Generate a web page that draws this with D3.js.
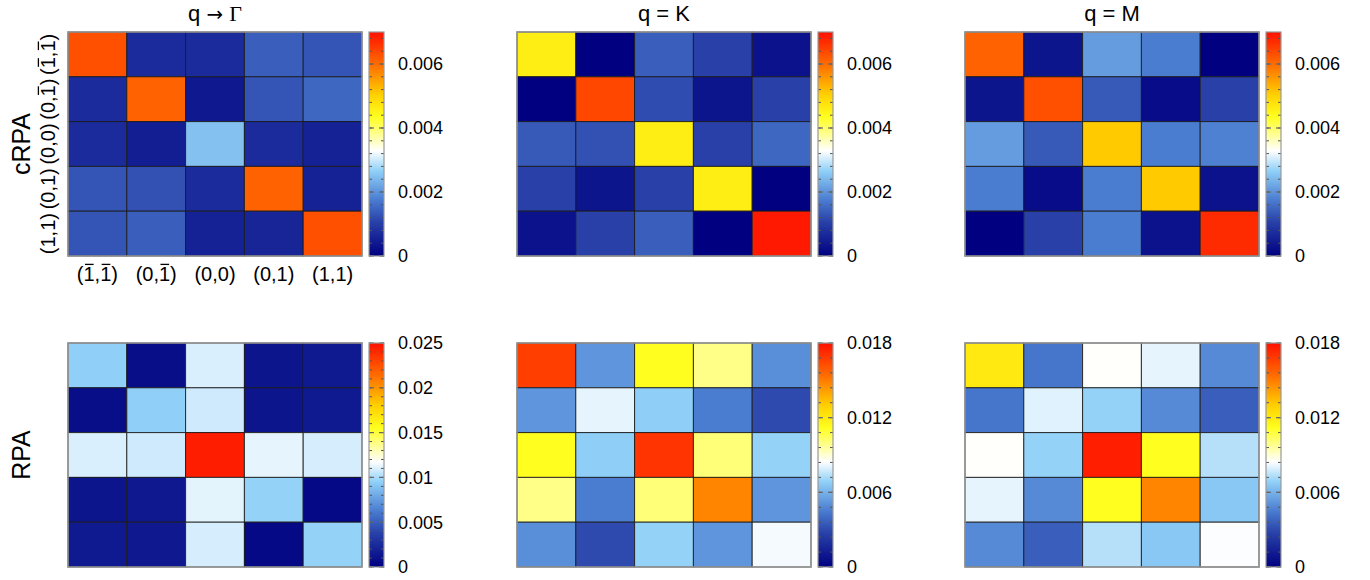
<!DOCTYPE html>
<html><head><meta charset="utf-8">
<script src="https://cdn.jsdelivr.net/npm/d3@7"></script>
<style>body{margin:0;background:#fff}svg{display:block}text{font-family:"Liberation Sans",Arial,sans-serif;fill:#000}</style>
</head><body>
<svg id="c" width="1370" height="580"></svg>
<script>
const labels = ["(1\u0305,1\u0305)", "(0,1\u0305)", "(0,0)", "(0,1)", "(1,1)"];
const colTitles = ["q \u2192 \u0393", "q = K", "q = M"];
const rowTitles = ["cRPA", "RPA"];

const gammaCRPA = [
  [0.0063, 0.0007, 0.0007, 0.0014, 0.0013],
  [0.0007, 0.0061, 0.0004, 0.0013, 0.0015],
  [0.0007, 0.0005, 0.0025, 0.0007, 0.00055],
  [0.0013, 0.00125, 0.0007, 0.0061, 0.00055],
  [0.0013, 0.0014, 0.00055, 0.0006, 0.0063]
];
const kCRPA = [
  [0.0046, 0.0, 0.0014, 0.00105, 0.0003],
  [0.0, 0.0064, 0.0012, 0.00035, 0.00105],
  [0.00135, 0.00125, 0.0046, 0.00105, 0.0015],
  [0.00105, 0.00035, 0.00105, 0.0046, 0.0],
  [0.0003, 0.00105, 0.0014, 0.0, 0.0069]
];
const mCRPA = [
  [0.0061, 0.00035, 0.0021, 0.00175, 0.0],
  [0.00035, 0.0063, 0.00135, 0.0002, 0.00105],
  [0.0021, 0.00135, 0.0051, 0.00175, 0.0018],
  [0.00175, 0.0002, 0.00175, 0.0051, 0.0003],
  [0.0, 0.00105, 0.00175, 0.0003, 0.0067]
];
const gammaRPA = [
  [0.0095, 0.00075, 0.011, 0.00125, 0.0015],
  [0.00075, 0.0095, 0.01075, 0.00125, 0.0015],
  [0.011, 0.01075, 0.0245, 0.01125, 0.0109],
  [0.00125, 0.0014, 0.0112, 0.0096, 0.0005],
  [0.0015, 0.0014, 0.0109, 0.0005, 0.0096]
];
const kRPA = [
  [0.0167, 0.0052, 0.0112, 0.0099, 0.005],
  [0.0052, 0.0081, 0.0068, 0.0045, 0.003],
  [0.0112, 0.0068, 0.017, 0.0101, 0.0069],
  [0.0099, 0.0045, 0.0101, 0.0148, 0.0052],
  [0.005, 0.003, 0.0069, 0.0052, 0.0083]
];
const mRPA = [
  [0.012, 0.0043, 0.0085, 0.0081, 0.0049],
  [0.0043, 0.008, 0.0069, 0.0049, 0.0036],
  [0.0085, 0.0069, 0.0176, 0.0112, 0.0074],
  [0.0081, 0.0049, 0.0112, 0.0148, 0.0066],
  [0.0049, 0.0036, 0.0074, 0.0066, 0.0084]
];
const cbMaxTop = 0.007, cbMaxGammaRPA = 0.025, cbMaxRPA = 0.018;
const ticksTop = [0, 0.002, 0.004, 0.006];
const ticksGammaRPA = [0, 0.005, 0.01, 0.015, 0.02, 0.025];
const ticksRPA = [0, 0.006, 0.012, 0.018];
const tickLabelsTop = ["0", "0.002", "0.004", "0.006"];
const tickLabelsGammaRPA = ["0", "0.005", "0.01", "0.015", "0.02", "0.025"];
const tickLabelsRPA = ["0", "0.006", "0.012", "0.018"];

const stopsT = [0, 0.15, 0.25, 0.38, 0.47, 0.62, 0.72, 0.85, 1.0];
const stopsC = ["#000080", "#2840a8", "#4a7cd0", "#90d0f8", "#ffffff", "#ffff20", "#ffd000", "#ff7000", "#ff1000"];

const panels = [
  {row:0, col:0, data:gammaCRPA, max:cbMaxTop, ticks:ticksTop, tl:tickLabelsTop},
  {row:0, col:1, data:kCRPA, max:cbMaxTop, ticks:ticksTop, tl:tickLabelsTop},
  {row:0, col:2, data:mCRPA, max:cbMaxTop, ticks:ticksTop, tl:tickLabelsTop},
  {row:1, col:0, data:gammaRPA, max:cbMaxGammaRPA, ticks:ticksGammaRPA, tl:tickLabelsGammaRPA},
  {row:1, col:1, data:kRPA, max:cbMaxRPA, ticks:ticksRPA, tl:tickLabelsRPA},
  {row:1, col:2, data:mRPA, max:cbMaxRPA, ticks:ticksRPA, tl:tickLabelsRPA}
];

const svg = d3.select("#c");
const colX = [68, 517, 965], rowY = [32, 343];
const W = 294, H = 224, cbW = 15, cbGap = 7;
const defs = svg.append("defs");

function barLabel(g, str, fs) {
  let plain = "", bars = [];
  for (const ch of str) {
    if (ch === "\u0305") bars.push(plain.length - 1); else plain += ch;
  }
  const t = g.append("text").attr("text-anchor", "middle").attr("font-size", fs).text(plain);
  const node = t.node();
  bars.forEach(k => {
    const s = node.getStartPositionOfChar(k).x, e = node.getEndPositionOfChar(k).x;
    g.append("line").attr("x1", s + 1.5).attr("x2", e - 1).attr("y1", -fs * 0.83).attr("y2", -fs * 0.83)
      .attr("stroke", "#000").attr("stroke-width", 1.3);
  });
}

function titleText(g, str, fs) {
  const t = g.append("text").attr("x", W / 2).attr("y", -11).attr("text-anchor", "middle").attr("font-size", fs);
  for (const ch of str) {
    const ts = t.append("tspan").text(ch);
    if (ch === "\u2192") ts.style("font-family", "DejaVu Sans").attr("font-size", fs * 0.9);
    if (ch === "\u0393") ts.style("font-family", "Liberation Serif");
  }
}

panels.forEach((p, pi) => {
  const x0 = colX[p.col], y0 = rowY[p.row];
  const g = svg.append("g").attr("transform", `translate(${x0},${y0})`);
  const xs = d3.scaleBand().domain(d3.range(5)).range([0, W]);
  const ys = d3.scaleBand().domain(d3.range(5)).range([0, H]);
  const color = d3.scaleLinear().domain(stopsT.map(t => t * p.max)).range(stopsC).clamp(true);
  const cells = [];
  p.data.forEach((r, i) => r.forEach((v, j) => cells.push({i, j, v})));
  g.selectAll("rect.cell").data(cells).join("rect")
    .attr("x", d => xs(d.j)).attr("y", d => ys(d.i))
    .attr("width", xs.bandwidth()).attr("height", ys.bandwidth())
    .attr("fill", d => color(d.v))
    .attr("stroke", "#1a1a1a").attr("stroke-opacity", 0.85).attr("stroke-width", 1);
  g.append("rect").attr("width", W).attr("height", H).attr("fill", "none")
    .attr("stroke", "#999").attr("stroke-width", 1.5);

  const cx = W + cbGap;
  const cy = d3.scaleLinear().domain([0, p.max]).range([H, 0]);
  const gid = "grad" + pi;
  const grad = defs.append("linearGradient").attr("id", gid)
    .attr("x1", 0).attr("y1", 1).attr("x2", 0).attr("y2", 0);
  stopsT.forEach((t, k) => grad.append("stop").attr("offset", t).attr("stop-color", stopsC[k]));
  const cb = g.append("g").attr("transform", `translate(${cx},0)`);
  cb.append("rect").attr("width", cbW).attr("height", H).attr("fill", `url(#${gid})`);
  const step = p.ticks[1] / 5;
  const minor = d3.range(0, p.max + step * 0.01, step);
  cb.selectAll("line.mn").data(minor).join("line")
    .attr("x1", 0).attr("x2", 3).attr("y1", d => cy(d)).attr("y2", d => cy(d))
    .attr("stroke", "#555").attr("stroke-width", 1);
  cb.selectAll("line.mn2").data(minor).join("line")
    .attr("x1", cbW - 3).attr("x2", cbW).attr("y1", d => cy(d)).attr("y2", d => cy(d))
    .attr("stroke", "#555").attr("stroke-width", 1);
  cb.selectAll("line.mj").data(p.ticks).join("line")
    .attr("x1", 0).attr("x2", 5).attr("y1", d => cy(d)).attr("y2", d => cy(d))
    .attr("stroke", "#666").attr("stroke-width", 1.2);
  cb.selectAll("line.mj2").data(p.ticks).join("line")
    .attr("x1", cbW - 5).attr("x2", cbW).attr("y1", d => cy(d)).attr("y2", d => cy(d))
    .attr("stroke", "#666").attr("stroke-width", 1.2);
  cb.append("rect").attr("width", cbW).attr("height", H).attr("fill", "none")
    .attr("stroke", "#999").attr("stroke-width", 1.2);
  cb.selectAll("text.tl").data(p.ticks).join("text")
    .attr("x", cbW + 14).attr("y", d => cy(d)).attr("dy", "0.36em")
    .attr("font-size", 18).text((d, k) => p.tl[k]);

  if (p.row === 0) titleText(g, colTitles[p.col], 22);
  if (p.row === 0 && p.col === 0) {
    labels.forEach((lab, k) => {
      const lg = g.append("g").attr("transform", `translate(${xs(k) + xs.bandwidth() / 2},${H + 25})`);
      barLabel(lg, lab, 20);
    });
    labels.forEach((lab, k) => {
      const lg = g.append("g").attr("transform", `translate(-13,${ys(k) + ys.bandwidth() / 2}) rotate(-90)`);
      barLabel(lg, lab, 20);
    });
  }
  if (p.col === 0) {
    svg.append("text")
      .attr("transform", `translate(30,${y0 + H / 2}) rotate(-90)`)
      .attr("text-anchor", "middle").attr("font-size", 25).text(rowTitles[p.row]);
  }
});
</script>
</body></html>
